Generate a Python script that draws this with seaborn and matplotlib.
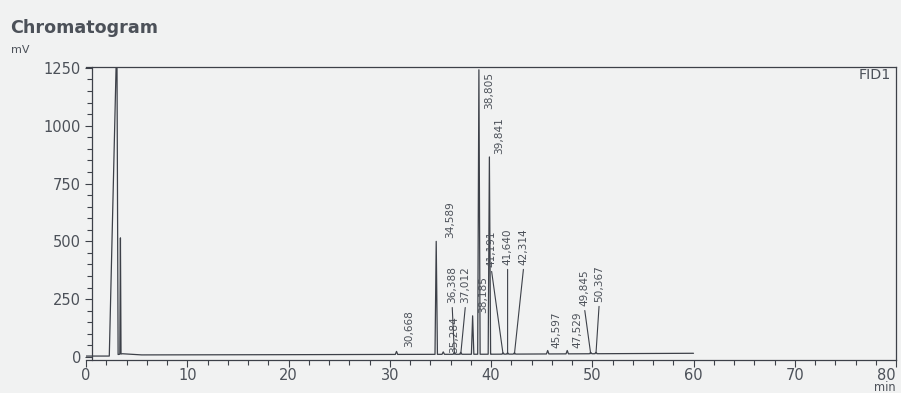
import numpy as np
import pandas as pd
import matplotlib.pyplot as plt
from matplotlib.ticker import MultipleLocator
import seaborn as sns

peak_rt = [3.05, 3.40, 30.668, 34.589, 35.284, 36.388, 37.012, 38.185, 38.805,
           39.841, 41.191, 41.640, 42.314, 45.597, 47.529, 49.845, 50.367]
peak_mv = [1400, 515, 24, 500, 22, 22, 20, 178, 1242,
           865, 18, 18, 18, 28, 28, 20, 20]
# Базовая линия (дрейф)
base_rt = [0.0, 2.3, 3.6, 5.5, 20.0, 40.0, 60.0]
base_mv = [4, 4, 14, 9, 10, 12, 16]

# Подписи пиков
label_txt = ['30,668', '34,589', '35,284', '36,388', '37,012', '38,185', '38,805',
             '39,841', '41,191', '41,640', '42,314', '45,597', '47,529', '49,845', '50,367']
label_rt = peak_rt[2:]

# Форма пиков (полуширины слева/справа, мин)
half_left = [0.75, 0.06] + [0.12] * 15
half_right = [0.12, 0.06] + [0.12] * 15
# Положение подписей (мин, мВ нижнего края) и выноски
label_x = [31.9, 35.95, 36.35, 36.15, 37.5, 39.2, 39.8, 40.8, 40.0, 41.64, 43.25,
           46.5, 48.5, 49.2, 50.7]
label_y = [42, 516, 17, 234, 234, 191, 1072, 877, 390, 399, 399, 39, 39, 221, 239]
leader = [False, False, False, True, True, False, False, False, True, True, True,
          False, False, True, True]

ink = '#3d4149'
txt = '#4c5159'
paper = '#f1f2f2'

# Сборка кривой
pts = list(zip(base_rt, base_mv))
for rt, h, wl, wr in zip(peak_rt, peak_mv, half_left, half_right):
    pts.append((rt - wl, float(np.interp(rt - wl, base_rt, base_mv))))
    pts.append((rt, h))
    pts.append((rt + wr, float(np.interp(rt + wr, base_rt, base_mv))))
df = pd.DataFrame(pts, columns=['min', 'mV']).sort_values('min', kind='stable')

sns.set_style('ticks')
plt.rcParams['font.family'] = ['DejaVu Sans']
fig = plt.figure(figsize=(9.01, 3.93), dpi=100, facecolor=paper)
ax = fig.add_axes([86 / 901, 0.084, 810 / 901, 0.7455], facecolor=paper)

sns.lineplot(data=df, x='min', y='mV', sort=False, estimator=None,
             color=ink, lw=0.9, ax=ax)

for i, t in enumerate(label_txt):
    if leader[i]:
        foot = float(np.interp(label_rt[i], base_rt, base_mv))
        ax.annotate(t, xy=(label_rt[i], foot), xytext=(label_x[i], label_y[i]),
                    rotation=90, ha='center', va='bottom', fontsize=7.6, color=txt,
                    arrowprops=dict(arrowstyle='-', lw=0.8, color=ink,
                                    shrinkA=1, shrinkB=0, relpos=(0.5, 0)))
    else:
        ax.text(label_x[i], label_y[i], t, rotation=90, ha='center', va='bottom',
                fontsize=7.6, color=txt)

ax.set_xlim(0, 80)
ax.set_ylim(-13, 1254)
ax.set_xticks(range(0, 81, 10))
ax.set_yticks(range(0, 1251, 250))
ax.xaxis.set_minor_locator(MultipleLocator(2))
ax.yaxis.set_minor_locator(MultipleLocator(50))
ax.tick_params(which='major', direction='out', length=5, width=0.8, color=ink,
               labelsize=10.5, labelcolor=txt)
ax.tick_params(axis='x', which='major', pad=0.5)
ax.tick_params(axis='y', which='major', pad=3)
ax.tick_params(which='minor', direction='out', length=3.5, width=0.8, color=ink)
ax.get_xticklabels()[-1].set_horizontalalignment('right')
for s in ax.spines.values():
    s.set_visible(True)
    s.set_color(ink)
    s.set_linewidth(0.9)
ax.spines['left'].set_position(('data', 0.6))
ax.set_xlabel('')
ax.set_ylabel('')

ax.text(0.9938, 0.996, 'FID1', transform=ax.transAxes, ha='right', va='top',
        fontsize=10.4, color=txt)
fig.text(10 / 901, 1 - 33 / 393, 'Chromatogram', fontsize=12.6, fontweight='bold',
         color=txt, va='baseline')
fig.text(11 / 901, 1 - 53 / 393, 'mV', fontsize=8, color=txt, va='baseline')
fig.text(896 / 901, 1 - 391 / 393, 'min', fontsize=8.3, color=txt, ha='right',
         va='baseline')

plt.savefig('out.png', dpi=100, facecolor=paper)
